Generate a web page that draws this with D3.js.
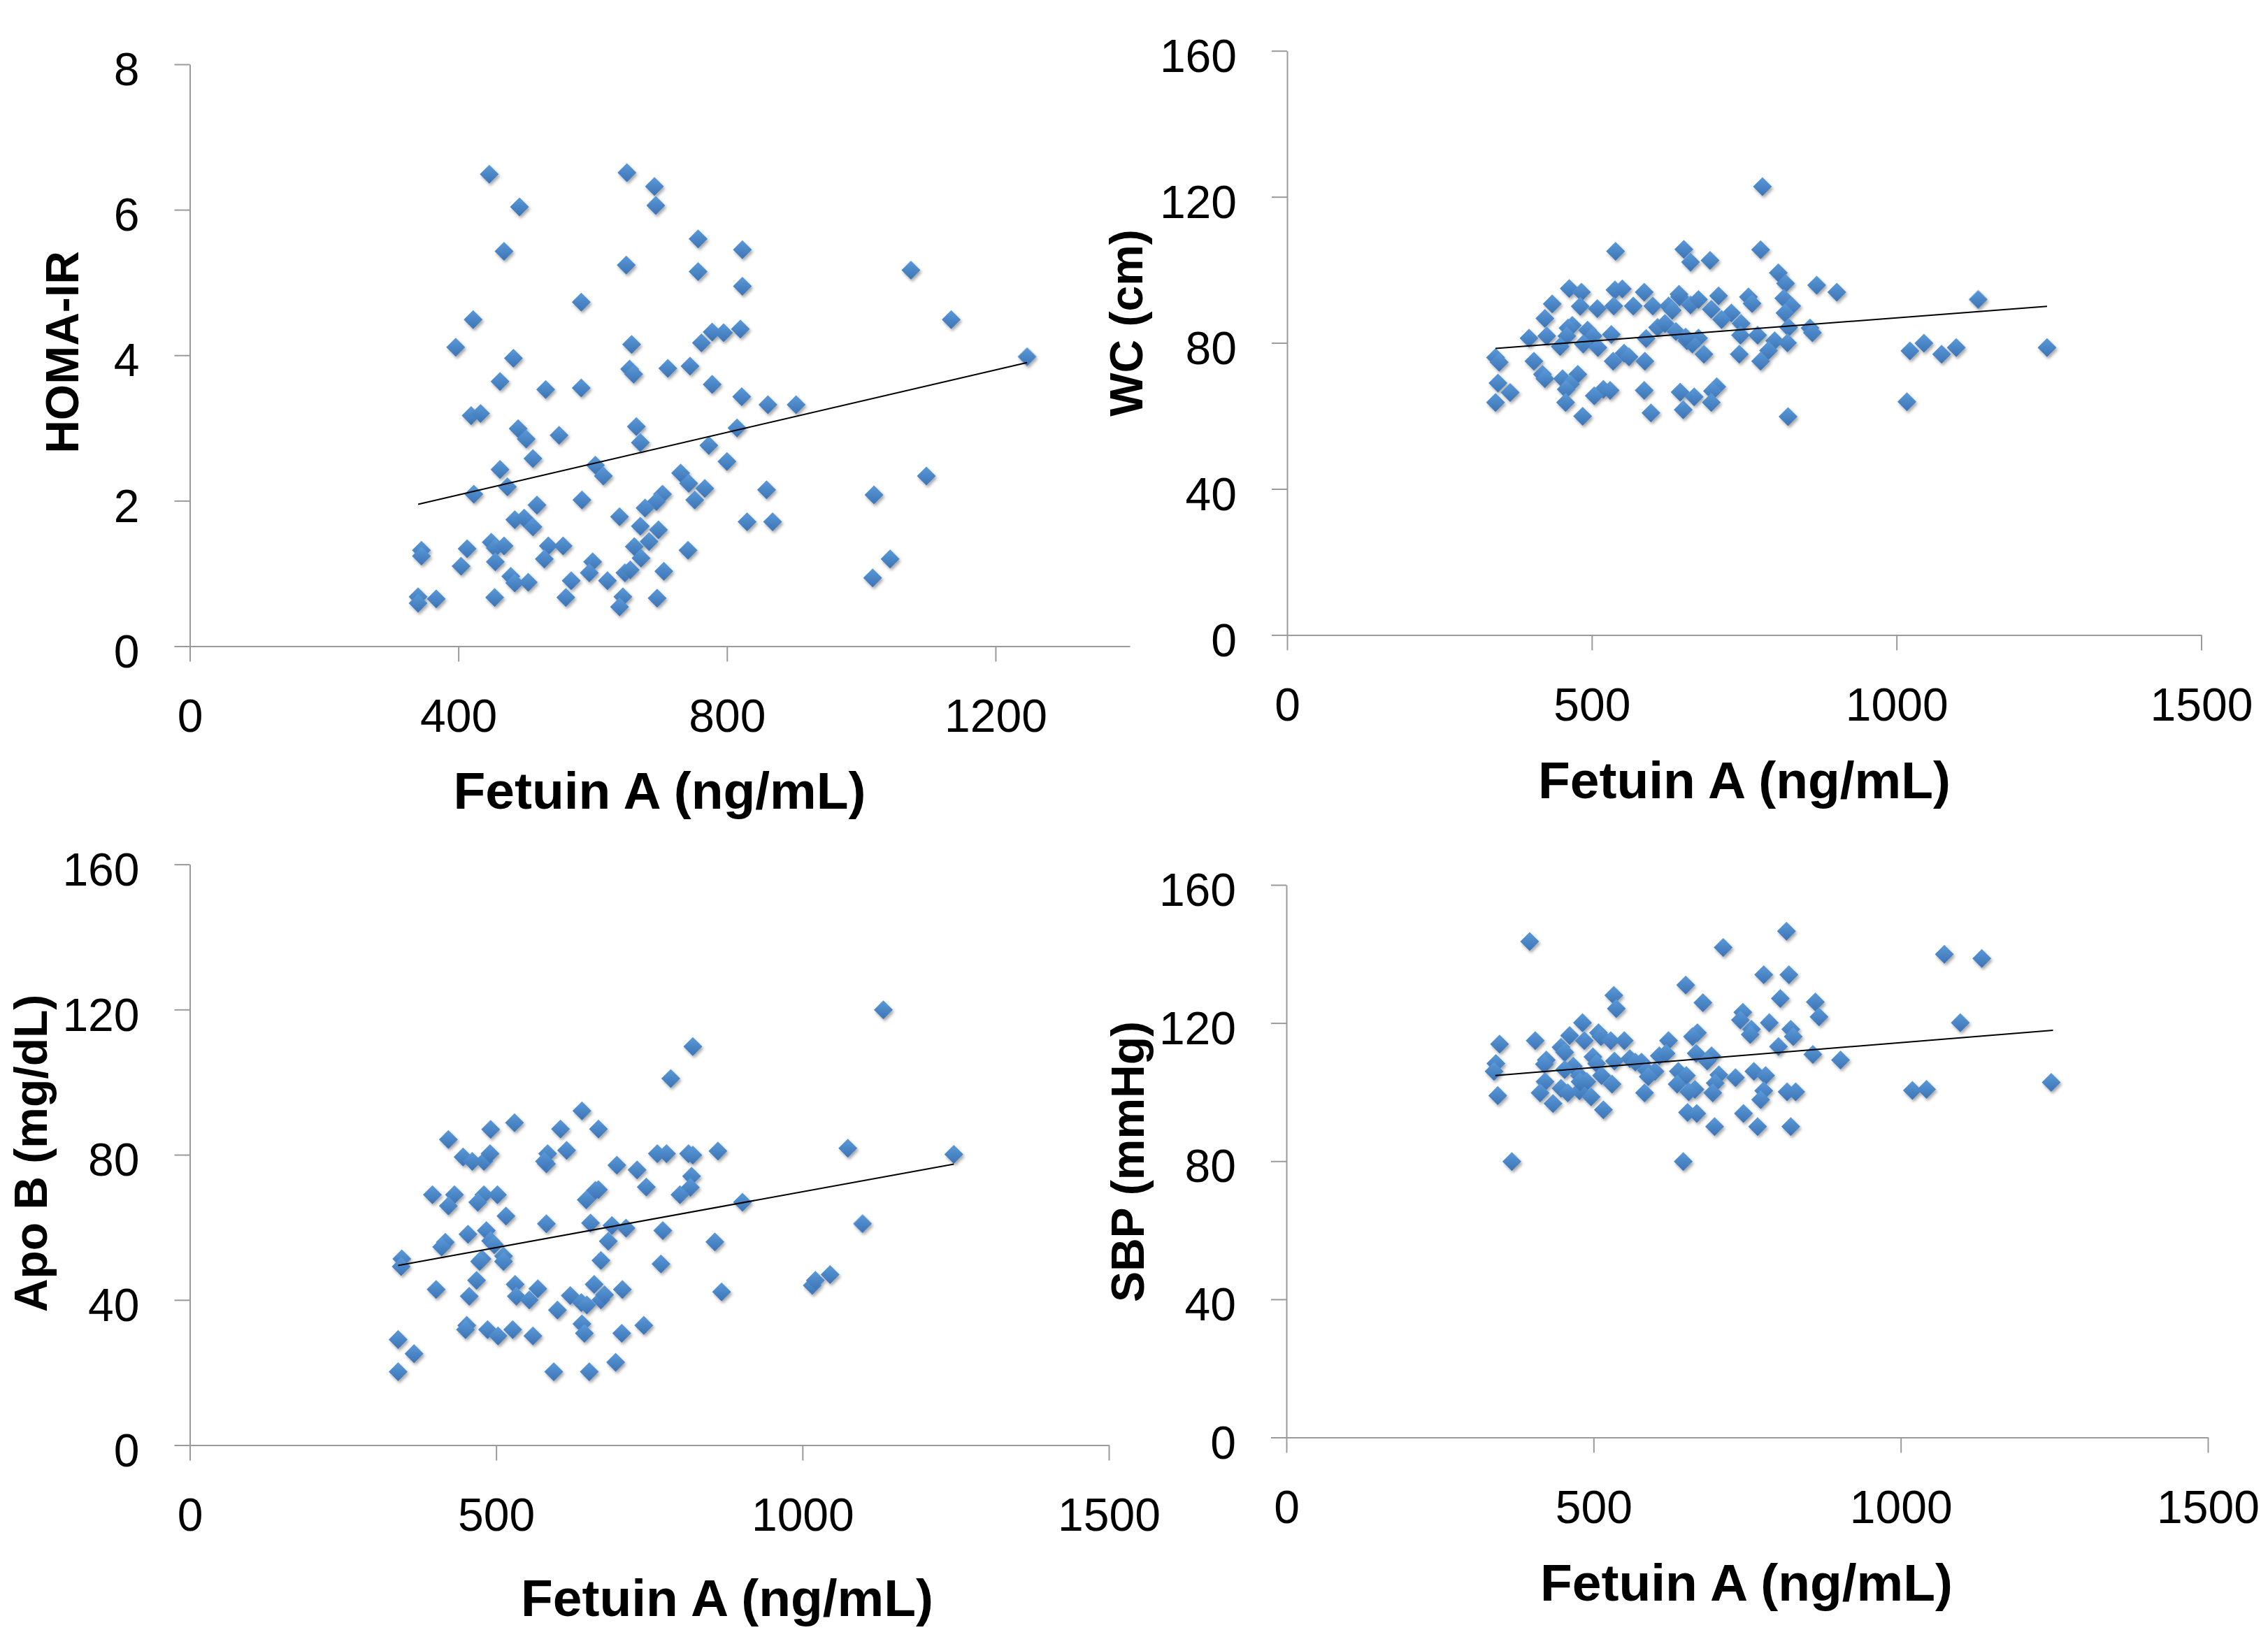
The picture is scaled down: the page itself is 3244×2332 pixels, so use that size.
<!DOCTYPE html>
<html>
<head>
<meta charset="utf-8">
<script src="https://cdn.jsdelivr.net/npm/d3@7"></script>
<style>
  body { margin: 0; background: #fff; }
  svg { display: block; }
  text { font-family: "Liberation Sans", Arial, sans-serif; fill: #000; }
</style>
</head>
<body>
<svg id="chart" width="3244" height="2332"></svg>
<script>
// Fetuin A (ng/mL) vs HOMA-IR
const homaFetuin = [446,651,692,694,491,468,650,757,823,757,823,1074,583,422,1134,396,658,762,778,795,
  820,482,655,661,712,745,1247,462,530,583,778,822,861,903,419,433,489,501,550,665,
  671,815,773,511,800,604,616,462,731,743,473,767,423,752,584,704,695,859,1097,1019,
  517,640,678,484,498,511,671,698,830,868,449,455,468,413,345,345,534,556,662,684,
  742,528,455,672,600,404,595,648,706,1043,478,484,504,568,622,1017,340,340,367,454,
  560,645,640,696,656];
const homaValues = [6.49,6.51,6.32,6.06,6.04,5.43,5.24,5.60,5.45,5.15,4.95,5.17,4.73,4.49,4.49,4.11,4.15,4.17,4.32,4.31,
  4.36,3.96,3.81,3.74,3.82,3.85,3.98,3.64,3.53,3.55,3.60,3.43,3.32,3.32,3.17,3.20,2.99,2.85,2.90,3.02,
  2.80,3.00,2.76,2.58,2.54,2.49,2.34,2.43,2.38,2.24,2.19,2.17,2.09,2.01,2.01,2.09,1.99,2.15,2.34,2.08,
  1.94,1.78,1.90,1.74,1.76,1.64,1.65,1.60,1.71,1.71,1.43,1.35,1.38,1.34,1.32,1.24,1.38,1.38,1.37,1.44,
  1.32,1.20,1.16,1.21,1.16,1.10,1.01,1.01,1.03,1.20,0.96,0.87,0.88,0.90,0.90,0.94,0.68,0.59,0.65,0.67,
  0.67,0.68,0.54,0.66,1.05];
const homaTrendX = [340, 1247];
const homaTrendY = [1.95, 3.90];

// Fetuin A vs WC
const wcFetuin = [780,539,651,777,662,694,806,818,869,902,463,483,538,550,586,435,481,509,536,568,
  600,626,644,662,675,708,757,763,815,828,1134,696,729,713,817,423,468,461,493,608,
  620,638,745,823,858,862,744,772,397,426,459,532,502,589,656,675,800,821,448,486,
  510,665,790,1022,1045,1074,1098,1247,342,348,405,553,561,535,587,684,742,777,419,423,
  477,452,346,465,366,458,519,530,504,586,645,668,705,698,342,457,696,1017,650,597,
  485,822,643,632,654];
const wcValues = [122.8,105.1,105.6,105.5,102.1,102.6,99.2,96.3,95.8,93.9,94.9,93.9,94.5,94.8,93.9,90.7,90.0,89.4,90.1,90.1,
  90.1,90.1,92.6,90.4,91.9,92.9,92.6,90.8,92.2,90.1,91.9,89.2,88.2,86.4,88.2,86.7,84.8,84.1,83.5,84.2,
  85.3,83.1,85.3,84.2,84.1,82.8,82.1,82.1,81.3,81.9,81.9,82.3,81.9,81.2,80.6,81.3,80.6,80.0,79.0,79.7,
  78.7,79.7,77.9,77.8,79.9,76.9,78.7,78.7,76.0,74.7,75.0,77.2,76.2,75.0,75.0,76.9,76.9,75.0,71.4,70.2,
  71.4,70.2,69.0,68.7,66.4,67.3,67.3,67.0,65.5,67.0,66.5,65.2,68.0,66.8,63.7,63.7,63.7,63.9,61.7,60.8,
  59.9,59.8,93.3,88.9,81.6];
const wcTrendX = [342, 1247];
const wcTrendY = [78.5, 90.0];

// Fetuin A vs Apo B
const apoFetuin = [1132,821,785,640,530,491,605,667,422,446,461,480,490,584,582,615,763,778,814,821,
  862,1074,1247,697,730,819,745,817,396,432,422,480,502,470,662,647,800,902,516,582,
  654,689,712,772,1098,454,484,417,411,491,497,683,857,346,345,477,512,512,473,671,
  769,468,531,533,568,402,456,554,621,639,648,660,671,677,706,868,1016,1021,1045,600,
  640,452,450,486,503,527,560,644,705,741,340,366,695,340,594,652,579,667];
const apoValues = [119.9,109.8,101.0,92.1,88.8,87.0,87.1,87.1,84.2,79.4,78.2,78.2,80.3,80.3,77.5,81.2,80.3,80.3,80.3,79.9,
  81.0,81.8,80.1,77.1,75.8,74.1,71.1,71.0,69.0,69.0,65.9,69.0,69.0,66.9,70.2,67.6,69.0,66.9,63.1,61.0,
  61.2,60.5,59.8,59.1,61.0,58.1,59.1,55.9,54.6,56.3,55.2,56.2,56.0,51.3,49.2,51.3,52.1,50.6,50.6,50.9,
  49.9,45.4,44.3,41.0,43.1,42.9,41.0,40.0,41.2,39.3,38.6,44.3,40.0,41.4,42.9,42.2,44.0,45.4,47.0,37.2,
  33.4,33.0,31.8,31.8,30.1,31.8,30.1,30.8,30.8,33.0,29.1,25.2,22.8,20.2,20.2,20.2,78.2,70.4];
const apoTrendX = [340, 1247];
const apoTrendY = [49.5, 77.4];

// Fetuin A vs SBP
const sbpFetuin = [814,396,711,1071,1132,777,818,650,533,804,678,861,537,743,867,739,482,786,1097,757,
  821,461,508,512,669,755,825,347,405,485,528,550,622,661,447,453,801,857,667,692,
  499,559,607,618,534,568,578,423,902,341,420,467,505,685,338,453,586,600,638,761,
  477,513,651,704,731,780,589,421,489,530,636,698,1245,447,477,665,777,1019,1042,344,
  413,458,496,583,655,694,815,829,434,772,516,653,668,744,697,767,821,367,646,478];
const sbpValues = [146.6,143.6,141.9,139.9,138.7,134.0,134.0,131.0,128.0,127.1,125.9,126.1,124.2,123.1,121.8,120.9,120.1,120.1,120.1,118.2,
  118.2,116.4,117.2,116.1,117.2,116.7,116.1,113.9,114.9,114.9,114.9,114.9,114.9,116.1,113.0,111.5,113.2,110.9,111.2,110.5,
  110.2,109.7,110.5,111.2,109.0,108.7,108.7,109.3,109.3,108.3,108.1,107.5,108.3,109.0,106.0,106.5,106.3,106.0,106.0,106.0,
  104.8,104.8,104.8,105.0,104.2,104.8,104.5,103.0,103.0,102.3,102.3,102.6,102.8,101.1,100.4,100.8,100.4,100.5,100.8,99.0,
  99.8,99.8,98.6,99.8,100.1,99.8,100.1,100.1,96.7,97.8,94.9,94.1,93.8,93.8,90.0,90.0,90.0,79.9,79.9,103.0];
const sbpTrendX = [340, 1248];
const sbpTrendY = [104.8, 117.9];

// axis ticks and labels
const xTicks1400 = [0, 400, 800, 1200];
const xTicks1500 = [0, 500, 1000, 1500];
const homaTicks = [0, 2, 4, 6, 8];
const mmTicks = [0, 40, 80, 120, 160];
const xTitle = "Fetuin A (ng/mL)";
const yTitles = ["HOMA-IR", "WC (cm)", "Apo B (mg/dL)", "SBP (mmHg)"];

// layout of the four panels
const panels = [
  { x: homaFetuin, y: homaValues, tx: homaTrendX, ty: homaTrendY, xMax: 1400, xTicks: xTicks1400, yMax: 8, yTicks: homaTicks,
    left: 271.5, right: 1616, top: 92, bottom: 924.5, yTitle: yTitles[0], yTitleX: 111.5, yTitleY: 504, xTitleX: 943.5, xTitleY: 1157 },
  { x: wcFetuin, y: wcValues, tx: wcTrendX, ty: wcTrendY, xMax: 1500, xTicks: xTicks1500, yMax: 160, yTicks: mmTicks,
    left: 1841, right: 3148.5, top: 72.7, bottom: 908.4, yTitle: yTitles[1], yTitleX: 1634, yTitleY: 462, xTitleX: 2495, xTitleY: 1142 },
  { x: apoFetuin, y: apoValues, tx: apoTrendX, ty: apoTrendY, xMax: 1500, xTicks: xTicks1500, yMax: 160, yTicks: mmTicks,
    left: 271.5, right: 1586, top: 1236.6, bottom: 2067.5, yTitle: yTitles[2], yTitleX: 66.5, yTitleY: 1650, xTitleX: 1040, xTitleY: 2312 },
  { x: sbpFetuin, y: sbpValues, tx: sbpTrendX, ty: sbpTrendY, xMax: 1500, xTicks: xTicks1500, yMax: 160, yTicks: mmTicks,
    left: 1840, right: 3158, top: 1266, bottom: 2056.5, yTitle: yTitles[3], yTitleX: 1636, yTitleY: 1662, xTitleX: 2498, xTitleY: 2290 }
];

const svg = d3.select("#chart");
const defs = svg.append("defs");
const grad = defs.append("linearGradient").attr("id", "mk")
  .attr("x1", 0).attr("y1", 0).attr("x2", 1).attr("y2", 1);
grad.append("stop").attr("offset", "0%").attr("stop-color", "#5b9ad9");
grad.append("stop").attr("offset", "100%").attr("stop-color", "#3c73b4");
defs.append("filter").attr("id", "shadow").attr("x", "-20%").attr("y", "-20%").attr("width", "140%").attr("height", "140%")
  .append("feDropShadow").attr("dx", 2).attr("dy", 3).attr("stdDeviation", 2)
  .attr("flood-color", "#000").attr("flood-opacity", 0.35);

const diamond = d3.symbol(d3.symbolSquare, 365)();
const axisColor = "#9a9a9a";

panels.forEach(p => {
  const x = d3.scaleLinear().domain([0, p.xMax]).range([p.left, p.right]);
  const y = d3.scaleLinear().domain([0, p.yMax]).range([p.bottom, p.top]);
  const g = svg.append("g");

  const xAxis = g.append("g").attr("transform", `translate(0,${p.bottom})`)
    .call(d3.axisBottom(x).tickValues(p.xTicks).tickSize(22).tickSizeOuter(0).tickPadding(54).tickFormat(d3.format("d")));
  const yAxis = g.append("g").attr("transform", `translate(${p.left},0)`)
    .call(d3.axisLeft(y).tickValues(p.yTicks).tickSize(22).tickSizeOuter(0).tickPadding(50).tickFormat(d3.format("d")));

  [xAxis, yAxis].forEach(a => {
    a.select(".domain").attr("stroke", axisColor).attr("stroke-width", 2);
    a.selectAll(".tick line").attr("stroke", axisColor).attr("stroke-width", 2);
    a.selectAll(".tick text").attr("font-size", 66).attr("fill", "#000")
      .attr("font-family", '"Liberation Sans", Arial, sans-serif');
  });
  yAxis.selectAll(".tick text").attr("dy", "0.45em");

  const pts = p.x.map((v, i) => [v, p.y[i]]);
  g.append("g").attr("filter", "url(#shadow)")
    .selectAll("path").data(pts).join("path")
    .attr("d", diamond)
    .attr("fill", "url(#mk)")
    .attr("transform", d => `translate(${x(d[0])},${y(d[1])}) rotate(45)`);

  g.append("line")
    .attr("x1", x(p.tx[0])).attr("y1", y(p.ty[0]))
    .attr("x2", x(p.tx[1])).attr("y2", y(p.ty[1]))
    .attr("stroke", "#000").attr("stroke-width", 2);

  g.append("text")
    .attr("transform", `translate(${p.yTitleX},${p.yTitleY}) rotate(-90)`)
    .attr("text-anchor", "middle").attr("font-weight", "bold").attr("font-size", 66)
    .text(p.yTitle);

  g.append("text")
    .attr("x", p.xTitleX).attr("y", p.xTitleY)
    .attr("text-anchor", "middle").attr("font-weight", "bold").attr("font-size", 75)
    .text(xTitle);
});
</script>
</body>
</html>
